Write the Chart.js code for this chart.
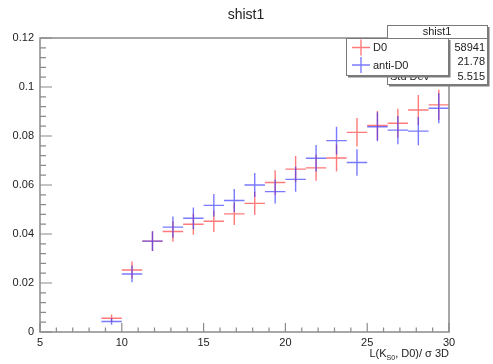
<!DOCTYPE html>
<html>
<head>
<meta charset="utf-8">
<script src="https://cdn.jsdelivr.net/npm/chart.js@4"></script>
<style>
html,body{margin:0;padding:0;background:#fff;}
#wrap{width:493px;height:364px;position:relative;}
</style>
</head>
<body>
<div id="wrap"><canvas id="c" width="493" height="364"></canvas></div>
<script>
// Bin centres (bin width 1.25, range 5..30)
const binCenters = [9.375, 10.625, 11.875, 13.125, 14.375, 15.625, 16.875, 18.125, 19.375, 20.625, 21.875, 23.125, 24.375, 25.625, 26.875, 28.125, 29.375];
const binHalfWidth = 0.625;
const d0Values = [0.0056, 0.0253, 0.0371, 0.0410, 0.0440, 0.0452, 0.0482, 0.0525, 0.0610, 0.0665, 0.0670, 0.0710, 0.0815, 0.0843, 0.0852, 0.0906, 0.0927];
const d0Errors = [0.0015, 0.0035, 0.0040, 0.0042, 0.0043, 0.0044, 0.0045, 0.0047, 0.0050, 0.0053, 0.0053, 0.0055, 0.0058, 0.0059, 0.0059, 0.0061, 0.0062];
const antiValues = [0.0043, 0.0237, 0.0371, 0.0428, 0.0464, 0.0517, 0.0537, 0.0600, 0.0573, 0.0623, 0.0709, 0.0781, 0.0692, 0.0838, 0.0824, 0.0820, 0.0913];
const antiErrors = [0.0013, 0.0034, 0.0040, 0.0043, 0.0044, 0.0046, 0.0047, 0.0049, 0.0049, 0.0051, 0.0054, 0.0057, 0.0054, 0.0059, 0.0058, 0.0058, 0.0061];
const xTickLabels = [5, 10, 15, 20, 25, 30];
const yTickLabels = [0, 0.02, 0.04, 0.06, 0.08, 0.1, 0.12];
const statsRows = [["Entries", "58941"], ["Mean", "21.78"], ["Std Dev", "5.515"]];
const titleText = "shist1";
const legendLabels = ["D0", "anti-D0"];

const RED = "rgba(255,50,50,0.65)";
const BLUE = "rgba(50,50,255,0.65)";
const AXIS = "#8a8a8a";
const TXT = "#222";
const FONT = "'Liberation Sans', Arial, sans-serif";

function toPoints(vals, errs) {
  return binCenters.map((x, i) => ({x: x, y: vals[i], err: errs[i]}));
}

const rootPlugin = {
  id: 'rootStyle',
  afterDatasetsDraw(chart) {
    const ctx = chart.ctx;
    const xs = chart.scales.x, ys = chart.scales.y;
    const ca = chart.chartArea;
    // error crosses
    chart.data.datasets.forEach((ds, di) => {
      const meta = chart.getDatasetMeta(di);
      ctx.save();
      ctx.strokeStyle = ds.borderColor;
      ctx.lineWidth = 1.4;
      meta.data.forEach((pt, i) => {
        const d = ds.data[i];
        const xl = xs.getPixelForValue(d.x - binHalfWidth);
        const xr = xs.getPixelForValue(d.x + binHalfWidth);
        const yt = ys.getPixelForValue(d.y + d.err);
        const yb = ys.getPixelForValue(d.y - d.err);
        ctx.beginPath();
        ctx.moveTo(xl, pt.y); ctx.lineTo(xr, pt.y);
        ctx.moveTo(pt.x, yt); ctx.lineTo(pt.x, yb);
        ctx.stroke();
      });
      ctx.restore();
    });
    // frame and ticks
    ctx.save();
    ctx.strokeStyle = AXIS;
    ctx.lineWidth = 1.5;
    ctx.strokeRect(ca.left, ca.top, ca.right - ca.left, ca.bottom - ca.top);
    ctx.lineWidth = 1.2;
    ctx.beginPath();
    for (let v = 5; v <= 30.001; v += 1) {
      const px = xs.getPixelForValue(v);
      const major = Math.abs(v % 5) < 1e-6;
      const len = major ? 9 : 4.5;
      ctx.moveTo(px, ca.bottom); ctx.lineTo(px, ca.bottom - len);
    }
    for (let k = 0; k <= 30; k++) {
      const v = k * 0.004;
      const py = ys.getPixelForValue(v);
      const major = k % 5 === 0;
      const len = major ? 12 : 6;
      ctx.moveTo(ca.left, py); ctx.lineTo(ca.left + len, py);
    }
    ctx.stroke();
    ctx.restore();

    // title
    ctx.save();
    ctx.fillStyle = TXT;
    ctx.font = "14px " + FONT;
    ctx.textAlign = "center";
    ctx.textBaseline = "middle";
    ctx.fillText(titleText, 246, 15);

    // x axis title  L(K_S0, D0)/σ 3D  right-aligned at plot right
    ctx.font = "11px " + FONT;
    ctx.textBaseline = "alphabetic";
    ctx.textAlign = "left";
    const part1 = "L(K", sub = "S0", part2 = ", D0)/ σ 3D";
    const subFont = "7px " + FONT;
    const w1 = ctx.measureText(part1).width;
    const w3 = ctx.measureText(part2).width;
    ctx.font = subFont;
    const w2 = ctx.measureText(sub).width;
    let x0 = ca.right - (w1 + w2 + w3);
    const yb = 357;
    ctx.font = "11px " + FONT;
    ctx.fillText(part1, x0, yb);
    ctx.font = subFont;
    ctx.fillText(sub, x0 + w1, yb + 3);
    ctx.font = "11px " + FONT;
    ctx.fillText(part2, x0 + w1 + w2, yb);

    // stats box
    const sx = 387, sy = 25, sw = 100, sh = 59;
    ctx.fillStyle = "#fff";
    ctx.fillRect(sx, sy, sw, sh);
    ctx.strokeStyle = "#7a7a7a";
    ctx.lineWidth = 1;
    ctx.strokeRect(sx + 0.5, sy + 0.5, sw, sh);
    ctx.lineWidth = 2;
    ctx.beginPath();
    ctx.moveTo(sx + 2, sy + sh + 1.5); ctx.lineTo(sx + sw + 1.5, sy + sh + 1.5); ctx.lineTo(sx + sw + 1.5, sy + 2);
    ctx.stroke();
    ctx.lineWidth = 1;
    ctx.beginPath();
    ctx.moveTo(sx, sy + 13.5); ctx.lineTo(sx + sw, sy + 13.5);
    ctx.stroke();
    ctx.fillStyle = TXT;
    ctx.font = "11px " + FONT;
    ctx.textAlign = "center";
    ctx.textBaseline = "middle";
    ctx.fillText(titleText, sx + sw / 2, sy + 7);
    statsRows.forEach((r, i) => {
      const ry = sy + 22.5 + i * 14.5;
      ctx.textAlign = "left";
      ctx.fillText(r[0], sx + 3, ry);
      ctx.textAlign = "right";
      ctx.fillText(r[1], sx + sw - 2, ry);
    });

    // legend
    const lx = 346, ly = 38, lw = 102, lh = 37;
    ctx.fillStyle = "#fff";
    ctx.fillRect(lx, ly, lw, lh);
    ctx.strokeStyle = "#7a7a7a";
    ctx.lineWidth = 1;
    ctx.strokeRect(lx + 0.5, ly + 0.5, lw, lh);
    ctx.lineWidth = 2;
    ctx.beginPath();
    ctx.moveTo(lx + 2, ly + lh + 1.5); ctx.lineTo(lx + lw + 1.5, ly + lh + 1.5); ctx.lineTo(lx + lw + 1.5, ly + 2);
    ctx.stroke();
    const cols = [RED, BLUE];
    legendLabels.forEach((lab, i) => {
      const cy = ly + 9.5 + i * 17.5;
      const cx = 361;
      ctx.strokeStyle = cols[i];
      ctx.lineWidth = 1.4;
      ctx.beginPath();
      ctx.moveTo(cx - 9, cy); ctx.lineTo(cx + 9, cy);
      ctx.moveTo(cx, cy - 8); ctx.lineTo(cx, cy + 8);
      ctx.stroke();
      ctx.fillStyle = TXT;
      ctx.textAlign = "left";
      ctx.textBaseline = "middle";
      ctx.font = "11px " + FONT;
      ctx.fillText(lab, 373, cy + 0.5);
    });
    ctx.restore();
  }
};

new Chart(document.getElementById('c'), {
  type: 'scatter',
  data: {
    datasets: [
      {label: legendLabels[0], data: toPoints(d0Values, d0Errors), borderColor: RED, backgroundColor: RED, pointRadius: 0, showLine: false},
      {label: legendLabels[1], data: toPoints(antiValues, antiErrors), borderColor: BLUE, backgroundColor: BLUE, pointRadius: 0, showLine: false}
    ]
  },
  options: {
    responsive: false,
    animation: false,
    devicePixelRatio: 1,
    layout: {padding: {left: 0, top: 38, right: 44, bottom: 0}},
    plugins: {legend: {display: false}, title: {display: false}, tooltip: {enabled: false}},
    scales: {
      x: {
        type: 'linear', min: 5, max: 30,
        afterBuildTicks: s => { s.ticks = xTickLabels.map(v => ({value: v})); },
        afterFit: s => { s.height = 32; },
        grid: {display: false, drawTicks: false},
        border: {display: false},
        ticks: {color: TXT, font: {family: FONT, size: 11}, padding: 4, maxRotation: 0, autoSkip: false,
                callback: v => String(v)}
      },
      y: {
        type: 'linear', min: 0, max: 0.12,
        afterBuildTicks: s => { s.ticks = yTickLabels.map(v => ({value: v})); },
        afterFit: s => { s.width = 40; },
        grid: {display: false, drawTicks: false},
        border: {display: false},
        ticks: {color: TXT, font: {family: FONT, size: 11}, padding: 6, autoSkip: false,
                callback: v => String(Math.round(v * 100) / 100)}
      }
    }
  },
  plugins: [rootPlugin]
});
</script>
</body>
</html>
